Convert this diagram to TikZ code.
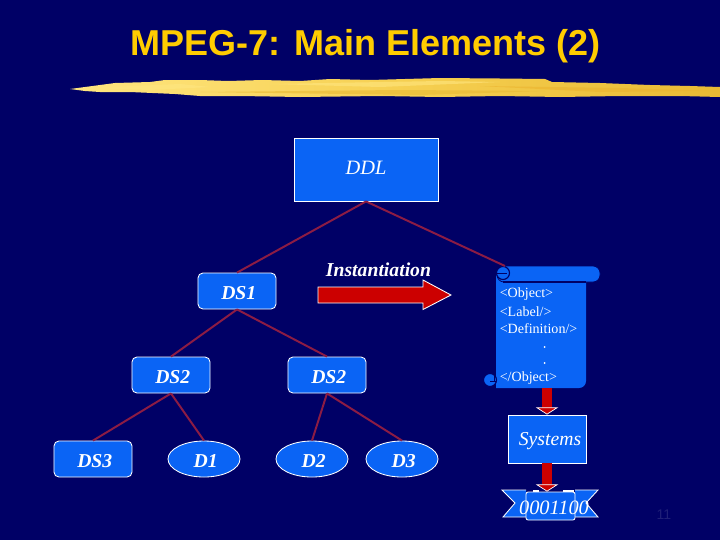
\documentclass[tikz,border=0pt]{standalone}
\usepackage{fontspec}
\setmainfont{Liberation Serif}
\newfontfamily\titlefont{Liberation Sans}
\usetikzlibrary{shapes, arrows.meta, positioning, calc}
\definecolor{slidebg}{HTML}{000066}
\definecolor{boxblue}{HTML}{0A64F5}
\definecolor{titleyellow}{HTML}{FFCC00}
\definecolor{linkred}{HTML}{8C1C44}
\definecolor{arrowred}{HTML}{CC0000}
\definecolor{brushpale}{HTML}{FFE680}
\definecolor{brushmid}{HTML}{F6D052}
\definecolor{brushdark}{HTML}{E9BA34}
\newcommand{\lbl}[1]{\kern2.5pt #1}
\tikzset{
  dsbox/.style={draw=white,fill=boxblue,line width=0.6pt,rounded corners=3.5pt,minimum width=1.95cm,minimum height=0.9cm,inner sep=0pt,text=white,text height=11.8pt,text depth=0pt,font=\fontsize{14}{17}\selectfont\bfseries\itshape},
  dleaf/.style={ellipse,draw=white,fill=boxblue,line width=0.6pt,minimum width=1.8cm,minimum height=0.9cm,inner sep=0pt,text=white,text height=11.8pt,text depth=0pt,font=\fontsize{14}{17}\selectfont\bfseries\itshape},
  link/.style={draw=linkred,line width=1.4pt},
  downarrow/.style={draw=arrowred,line width=0.23cm,-{Triangle[width=0.56cm,length=0.18cm,fill=arrowred,color=white,line width=0.5pt]}},
}
\begin{document}
\begin{tikzpicture}[x=0.025cm,y=-0.025cm]
    \fill[slidebg] (0,0) rectangle (720,540);
    \useasboundingbox (0,0) rectangle (720,540);

    % title and brush stroke
    \node[text=titleyellow,font=\titlefont\fontsize{25.6}{30}\selectfont\bfseries] (title) at (365.5,46) {MPEG-7: Main Elements (2)};
    \path[left color=brushpale,right color=brushdark,middle color=brushmid]
      (70,89) -- (100,85) -- (115,83) -- (150,82) -- (165,80) -- (200,80) -- (228,81) -- (262,80) -- (300,81)
      -- (330,79) -- (370,80) -- (440,78) -- (500,78.5) -- (545,79) -- (552,82) -- (600,83) -- (650,85)
      -- (690,86) -- (720,87) -- (720,97) -- (680,96) -- (620,96) -- (560,97) -- (500,96) -- (440,97)
      -- (380,96) -- (300,97) -- (240,96) -- (200,96) -- (175,94) -- (130,92) -- (100,92) -- (85,91) -- cycle;
    \fill[brushpale,opacity=0.6] (85,88) -- (180,84) -- (210,87) -- (150,90) -- cycle;
    \fill[brushpale,opacity=0.6] (270,84) -- (440,81) -- (500,82) -- (380,87) -- cycle;
    \fill[brushdark,opacity=0.6] (200,92) -- (400,90) -- (545,91) -- (420,95) -- cycle;
    \fill[brushdark!90!orange,opacity=0.6] (480,86) -- (620,88) -- (715,91) -- (600,92) -- cycle;

    % tree of schemes
    \node[dsbox,rounded corners=0pt,minimum width=3.6cm,minimum height=1.575cm,text height=7.8pt,font=\fontsize{14.5}{17}\selectfont\itshape] (ddl) at (366,169.5) {DDL};
    \node[dsbox] (dsa) at (237,291) {\lbl{DS1}};
    \node[dsbox] (dsb) at (171,375) {\lbl{DS2}};
    \node[dsbox] (dsc) at (327,375) {\lbl{DS2}};
    \node[dsbox] (dsd) at (93,459) {\lbl{DS3}};
    \node[dleaf] (da) at (204,459) {\lbl{D1}};
    \node[dleaf] (db) at (312,459) {\lbl{D2}};
    \node[dleaf] (dc) at (402,459) {\lbl{D3}};

    % scroll
    \fill[boxblue] (496,272) -- (586,272) -- (586,381) arc (0:90:7) -- (496,388) -- cycle;
    \node[minimum width=2.25cm,minimum height=2.6cm,inner sep=0pt] (scroll) at (541,336) {};
    \filldraw[fill=boxblue,draw=slidebg,line width=0.5pt,rounded corners=5pt] (497,266) rectangle (600,282);
    \draw[slidebg,line width=0.9pt] (503,282) -- (586,282);
    \filldraw[fill=boxblue,draw=slidebg,line width=0.8pt] (503,273) circle (6.5);
    \draw[slidebg,line width=0.7pt] (497,273) -- (507,273);
    \filldraw[fill=boxblue,draw=slidebg,line width=0.8pt] (490,380) circle (6.5);
    \draw[slidebg,line width=0.7pt] (490,381) -- (496,381) (494,374) -- (494,381);
    \coordinate (scrolltop) at (505,266);
    \foreach \ypos/\tag in {294.5/{<Object>},311.5/{<Label/>},328.5/{<Definition/>},378.5/{</Object>}}
      \node[anchor=west,text=white,font=\fontsize{10}{12}\selectfont,inner sep=0pt] at (499.5,\ypos) {\tag};
    \foreach \ypos in {347,363}
      \fill[white] (544.5,\ypos) circle (1);

    % links
    \draw[link] (ddl.south) -- (dsa.north);
    \draw[link] (ddl.south) -- (scrolltop);
    \draw[link] (dsa.south) -- (dsb.north);
    \draw[link] (dsa.south) -- (dsc.north);
    \draw[link] (dsb.south) -- (dsd.north);
    \draw[link] (dsb.south) -- (da.north);
    \draw[link] (dsc.south) -- (db.north);
    \draw[link] (dsc.south) -- (dc.north);

    % instantiation arrow
    \filldraw[draw=white,fill=arrowred,line width=0.6pt] (318,287) -- (423,287) -- (423,280) -- (451,295) -- (423,309.5) -- (423,303) -- (318,303) -- cycle;
    \node[text=white,font=\fontsize{14}{17}\selectfont\bfseries\itshape,inner sep=0pt] (instlabel) at (378.5,270) {Instantiation};

    % systems box
    \node[dsbox,rounded corners=0pt,minimum width=1.95cm,minimum height=1.2cm] (systems) at (547,439) {};
    \node[text=white,font=\fontsize{14}{17}\selectfont\itshape,inner sep=0pt] (syslabel) at (550,441) {Systems};

    % banner
    \filldraw[fill=boxblue,draw=white,line width=0.6pt] (526,490) -- (502,490) -- (515,503) -- (503,517) -- (526,517);
    \filldraw[fill=boxblue,draw=white,line width=0.6pt] (575,490) -- (598,490) -- (586,503) -- (598,517) -- (575,517);
    \node[draw=white,fill=boxblue,line width=0.6pt,rounded corners=1.5pt,minimum width=1.225cm,minimum height=0.7cm,inner sep=0pt] (bitsbox) at (550.5,506) {};
    \draw[white,line width=1pt] (533,491) -- (539,491) (563,491) -- (574,491);
    \node[text=white,font=\fontsize{14.5}{17}\selectfont\itshape,inner sep=0pt] (bits) at (554,507.5) {0001100};

    % arrows down
    \draw[downarrow] (scroll.south -| systems) -- (systems.north);
    \draw[downarrow] (systems.south) -- (systems |- bitsbox.north);

    \node[text=slidebg!88!white,font=\titlefont\fontsize{10}{12}\selectfont,inner sep=0pt] (pageno) at (664,515) {11};
  \end{tikzpicture}
\end{document}
